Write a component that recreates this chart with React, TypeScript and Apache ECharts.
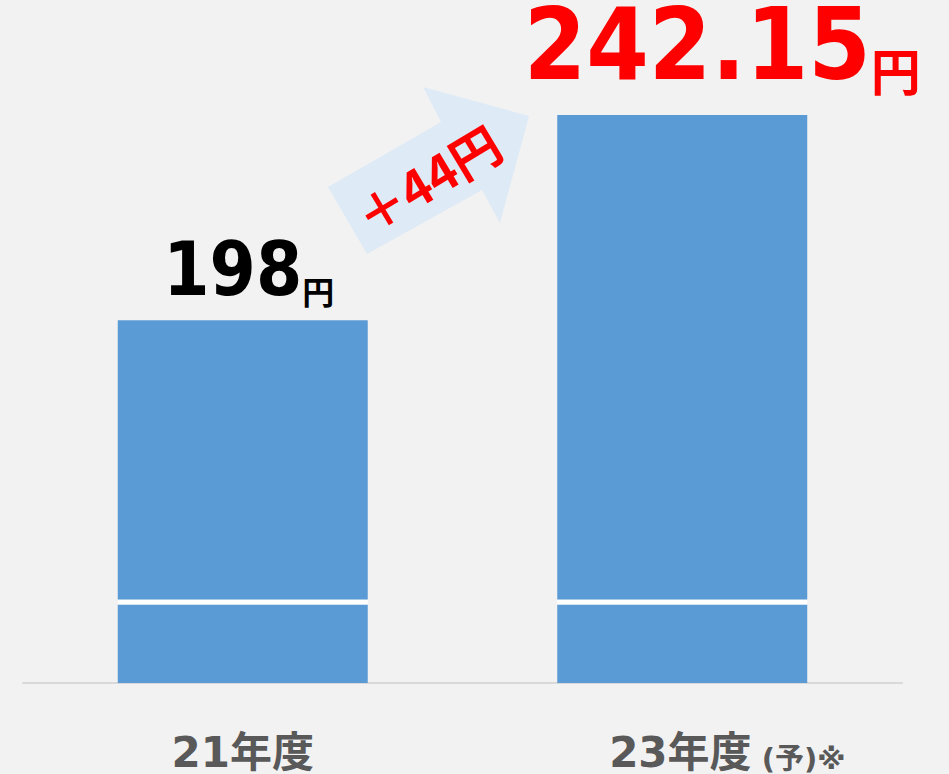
import React, { useEffect, useRef } from "react";
import * as echarts from "echarts";

const categories = ["21年度", "23年度"];
const categorySuffix = ["", " (予)※"];
const values = [198, 242.15];
const unit = "円";
const axisMin = 120;
const axisMax = 250;
const breakAt = 136.9;
const breakGap = 1.08;

const BLUE = "#5b9bd5";
const RED = "#ff0000";
const LABEL_FONT = "'DejaVu Sans', 'Noto Sans CJK JP'";

export default function App() {
  const ref = useRef<HTMLDivElement>(null);
  useEffect(() => {
    if (!ref.current) return;
    const chart = echarts.init(ref.current, null, { renderer: "svg" });
    const diff = Math.round(values[1] - values[0]);
    const labelStyles = [
      { color: "#000000", n: 74, u: 32, offset: [6, 0], distance: 14 },
      { color: RED, n: 100, u: 50, offset: [40, 0], distance: 21 },
    ];
    chart.setOption({
      animation: false,
      backgroundColor: "#f2f2f2",
      grid: { left: 23, right: 47, top: 78.5, bottom: 91 },
      xAxis: {
        type: "category",
        data: categories.map((c, i) => ({
          value: c,
          textStyle: i === 1 ? { padding: [0, 0, 0, 90] } : {},
        })),
        axisLine: { show: true, lineStyle: { color: "#d9d9d9", width: 2 } },
        axisTick: { show: false },
        axisLabel: {
          margin: 45,
          formatter: (v: string, idx: number) =>
            `{c|${v}}` + (categorySuffix[idx] ? `{s|${categorySuffix[idx]}}` : ""),
          rich: {
            c: {
              fontFamily: LABEL_FONT,
              fontWeight: "bold",
              fontSize: 42,
              color: "#595959",
              lineHeight: 46,
              verticalAlign: "bottom",
            },
            s: {
              fontFamily: LABEL_FONT,
              fontWeight: "bold",
              fontSize: 29,
              color: "#595959",
              lineHeight: 46,
              verticalAlign: "bottom",
            },
          },
        },
      },
      yAxis: {
        type: "value",
        min: axisMin,
        max: axisMax,
        show: false,
        splitLine: { show: false },
      },
      series: [
        {
          type: "bar",
          stack: "s",
          barWidth: 250,
          data: values.map(() => breakAt),
          itemStyle: { color: BLUE },
        },
        {
          type: "bar",
          stack: "s",
          barWidth: 250,
          data: values.map(() => breakGap),
          itemStyle: { color: "#ffffff" },
        },
        {
          type: "bar",
          stack: "s",
          barWidth: 250,
          itemStyle: { color: BLUE },
          data: values.map((v, i) => ({
            value: v - breakAt - breakGap,
            label: {
              show: true,
              position: "top",
              distance: labelStyles[i].distance,
              offset: labelStyles[i].offset,
              formatter: `{n|${values[i]}}{u|${unit}}`,
              rich: {
                n: {
                  fontFamily: "DejaVu Sans Condensed",
                  fontWeight: "bold",
                  fontSize: labelStyles[i].n,
                  color: labelStyles[i].color,
                  lineHeight: labelStyles[i].n,
                  verticalAlign: "bottom",
                },
                u: {
                  fontFamily: "Noto Sans CJK JP",
                  fontWeight: "bold",
                  fontSize: labelStyles[i].u,
                  color: labelStyles[i].color,
                  lineHeight: labelStyles[i].n,
                  verticalAlign: "bottom",
                },
              },
            },
          })),
        },
      ],
      graphic: [
        {
          type: "polygon",
          shape: {
            points: [
              [328, 187],
              [441, 122],
              [423, 87],
              [529, 116],
              [500, 223],
              [482, 190],
              [367, 254],
            ],
          },
          style: { fill: "#deeaf6" },
          z: 1,
        },
        {
          type: "text",
          x: 427,
          y: 178,
          rotation: (31 * Math.PI) / 180,
          z: 2,
          style: {
            text: `＋${diff}${unit}`,
            fontFamily: "Noto Sans CJK JP",
            fontWeight: "bold",
            fontSize: 50,
            fill: RED,
            align: "center",
            verticalAlign: "middle",
          },
        },
      ],
    });
    return () => chart.dispose();
  }, []);
  return (
    <div
      ref={ref}
      style={{ position: "absolute", left: 0, top: 0, width: 949, height: 774 }}
    />
  );
}
